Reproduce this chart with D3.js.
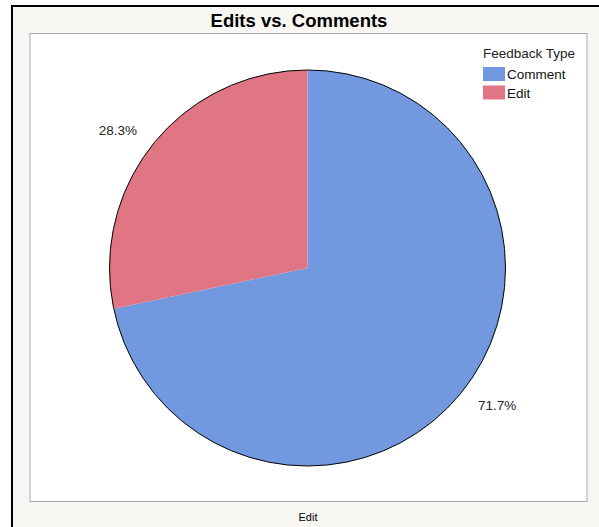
<!DOCTYPE html>
<html>
  <head>
    <meta charset="utf-8">
    <title>Edits vs. Comments</title>
    <script src="https://cdn.jsdelivr.net/npm/d3@7"></script>
    <style>
      body { margin: 0; background: #fff; }
      svg { display: block; font-family: "Liberation Sans", Arial, sans-serif; }
    </style>
  </head>
  <body>
    <svg id="chart" width="599" height="527"></svg>

    <script>
      // data
      categories = ["Comment", "Edit"];
      shares = [71.7, 28.3];
      colourList = ["#7299e0", "#e07683"];

      // layout
      svg = d3.select("#chart");
      cx = 307.5;
      cy = 268;
      radius = 198;
      labelRadius = 234;
      labelShift = -0.055; // labels sit a little before the slice middle

      // outer frame
      svg.append("rect")
        .attr("x", 12)
        .attr("y", 6)
        .attr("width", 600)
        .attr("height", 540)
        .attr("fill", "#f7f6f2")
        .attr("stroke", "#000")
        .attr("stroke-width", 2);

      // plot panel
      svg.append("rect")
        .attr("x", 30)
        .attr("y", 33.5)
        .attr("width", 557)
        .attr("height", 468)
        .attr("fill", "#fff")
        .attr("stroke", "#aaa")
        .attr("stroke-width", 1);

      svg.append("text")
        .attr("x", 299)
        .attr("y", 27)
        .attr("text-anchor", "middle")
        .style("font-size", "18.5px")
        .style("font-weight", "bold")
        .text("Edits vs. Comments");

      colours = d3.scaleOrdinal()
        .domain(categories)
        .range(colourList);

      pie = d3.pie()
        .sort(null)
        .value(function(d, i) { return shares[i]; });

      arcs = pie(categories);

      arc = d3.arc()
        .innerRadius(0)
        .outerRadius(radius);

      pieGroup = svg.append("g")
        .attr("transform", "translate(" + cx + "," + cy + ")");

      pieGroup.selectAll(".slice")
          .data(arcs)
        .enter().append("path")
          .classed("slice", true)
          .attr("d", arc)
          .attr("fill", function(d) { return colours(d.data); });

      pieGroup.append("circle")
        .attr("r", radius)
        .attr("fill", "none")
        .attr("stroke", "#000")
        .attr("stroke-width", 1);

      function labelPos(d) {
        let a = (d.startAngle + d.endAngle) / 2 + labelShift;
        return [labelRadius * Math.sin(a), -labelRadius * Math.cos(a)];
      }

      pieGroup.selectAll(".label")
          .data(arcs)
        .enter().append("text")
          .classed("label", true)
          .attr("transform", function(d) { return "translate(" + labelPos(d) + ")"; })
          .attr("text-anchor", "middle")
          .attr("dy", "0.35em")
          .style("font-size", "13.5px")
          .attr("fill", "#222")
          .text(function(d, i) { return shares[i].toFixed(1) + "%"; });

      // legend
      legend = svg.append("g")
        .attr("transform", "translate(483,0)");

      legend.append("text")
        .attr("x", 0)
        .attr("y", 58)
        .style("font-size", "13.5px")
        .attr("fill", "#222")
        .text("Feedback Type");

      items = legend.selectAll(".item")
          .data(categories)
        .enter().append("g")
          .classed("item", true)
          .attr("transform", function(d, i) { return "translate(0," + (67 + i * 18.5) + ")"; });

      items.append("rect")
        .attr("width", 22)
        .attr("height", 14)
        .attr("fill", function(d) { return colours(d); });

      items.append("text")
        .attr("x", 24)
        .attr("y", 12)
        .style("font-size", "13.5px")
        .attr("fill", "#111")
        .text(function(d) { return d; });

      svg.append("text")
        .attr("x", 308)
        .attr("y", 521)
        .attr("text-anchor", "middle")
        .style("font-size", "11px")
        .text("Edit");
    </script>
  </body>
</html>
